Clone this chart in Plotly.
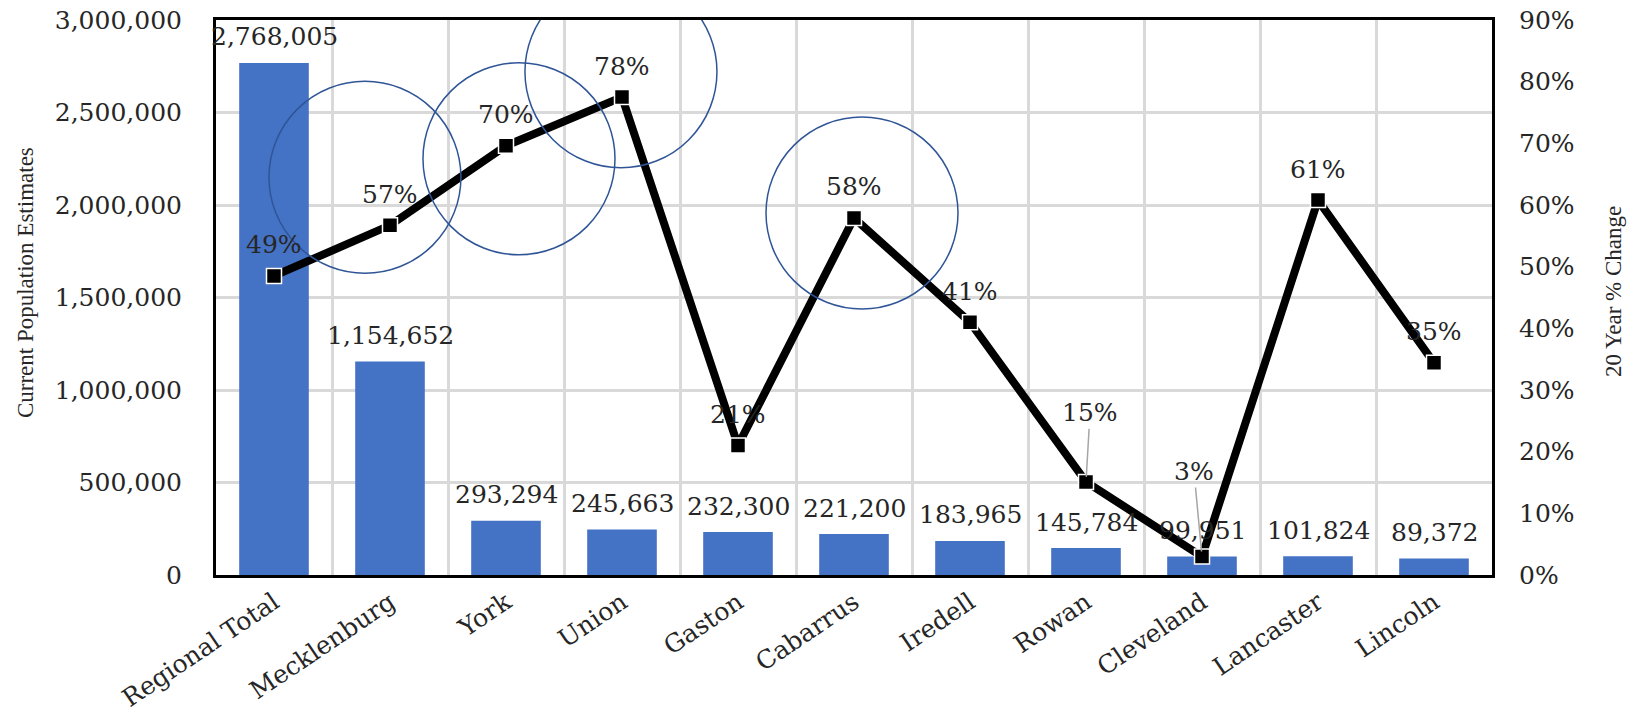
import plotly.graph_objects as go

categories = ["Regional Total", "Mecklenburg", "York", "Union", "Gaston", "Cabarrus",
              "Iredell", "Rowan", "Cleveland", "Lancaster", "Lincoln"]
population = [2768005, 1154652, 293294, 245663, 232300, 221200, 183965, 145784, 99951, 101824, 89372]
pop_labels = ["2,768,005", "1,154,652", "293,294", "245,663", "232,300", "221,200",
              "183,965", "145,784", "99,951", "101,824", "89,372"]
pct_change = [0.485, 0.567, 0.696, 0.775, 0.21, 0.579, 0.41, 0.151, 0.03, 0.608, 0.344]
pct_labels = ["49%", "57%", "70%", "78%", "21%", "58%", "41%", "15%", "3%", "61%", "35%"]

# highlight circles (category position, 20-year change level)
circle_x = [0.784, 2.112, 2.991, 5.069]
circle_y = [0.645, 0.675, 0.816, 0.587]

FONT = "DejaVu Serif, serif"
TFONT = "Liberation Serif, Times New Roman, serif"
BAR = "#4472C4"
GRID = "#D9D9D9"
TXT = "#262626"
LS = 25

fig = go.Figure()
fig.add_trace(go.Bar(x=categories, y=population, marker_color=BAR, marker_line_width=0,
                     name="Current Population Estimates", yaxis="y"))
fig.add_trace(go.Scatter(x=categories, y=pct_change, yaxis="y2", mode="lines+markers",
                         line=dict(color="black", width=8),
                         marker=dict(symbol="square", size=15, color="black",
                                     line=dict(color="white", width=1.5)),
                         name="20 Year % Change"))

annotations = []
for c, v, t in zip(categories, population, pop_labels):
    annotations.append(dict(x=c, y=v, xref="x", yref="y", text=t, showarrow=False,
                            yshift=26, font=dict(family=FONT, size=LS, color=TXT)))

leader = {"Rowan": (4, -69), "Cleveland": (-8, -85)}
for c, v, t in zip(categories, pct_change, pct_labels):
    if c in leader:
        ax, ay = leader[c]
        annotations.append(dict(x=c, y=v, xref="x", yref="y2", text=t, showarrow=True,
                                ax=ax, ay=ay, arrowhead=0, arrowwidth=1.5,
                                arrowcolor="#A6A6A6", standoff=5,
                                font=dict(family=FONT, size=LS, color=TXT)))
    else:
        annotations.append(dict(x=c, y=v, xref="x", yref="y2", text=t, showarrow=False,
                                yshift=31, font=dict(family=FONT, size=LS, color=TXT)))

annotations.append(dict(x=0, y=0.526, xref="paper", yref="paper", xshift=-191, xanchor="center",
                        text="Current Population Estimates", textangle=-90, showarrow=False,
                        font=dict(family=TFONT, size=23, color=TXT)))
annotations.append(dict(x=1, y=0.51, xref="paper", yref="paper", xshift=122, xanchor="center",
                        text="20 Year % Change", textangle=-90, showarrow=False,
                        font=dict(family=TFONT, size=23, color=TXT)))

shapes = []
for cx, cy in zip(circle_x, circle_y):
    shapes.append(dict(type="circle", xref="x", yref="y2", xsizemode="pixel", ysizemode="pixel",
                       xanchor=cx, yanchor=cy, x0=-96, x1=96, y0=-96, y1=96,
                       line=dict(color="#2F5597", width=1.5), fillcolor="rgba(0,0,0,0)"))

fig.update_layout(
    width=1633, height=713,
    margin=dict(l=216, r=141, t=20, b=138),
    paper_bgcolor="white", plot_bgcolor="white",
    showlegend=False, bargap=0.4,
    font=dict(family=FONT, size=LS, color="#404040"),
    xaxis=dict(type="category", range=[-0.5, 10.5], autorange=False, tickson="boundaries",
               showgrid=True, gridcolor=GRID, gridwidth=2.5,
               showline=True, linecolor="black", linewidth=3, mirror=True, ticks="",
               tickangle=-34, tickfont=dict(family=FONT, size=LS, color=TXT), automargin=False),
    yaxis=dict(range=[0, 3000000], dtick=500000, tickformat=",", showgrid=True, gridcolor=GRID,
               gridwidth=2.5, showline=True, linecolor="black", linewidth=3, mirror=True,
               ticks="", zeroline=False, ticklabelstandoff=26,
               tickfont=dict(family=FONT, size=LS, color=TXT), automargin=False),
    yaxis2=dict(range=[0, 0.9], dtick=0.1, tickformat=".0%", overlaying="y", side="right",
                showgrid=False, zeroline=False, showline=False, ticks="", ticklabelstandoff=26,
                tickfont=dict(family=FONT, size=LS, color=TXT), automargin=False),
    annotations=annotations,
    shapes=shapes,
)

fig.write_html("out.html")
